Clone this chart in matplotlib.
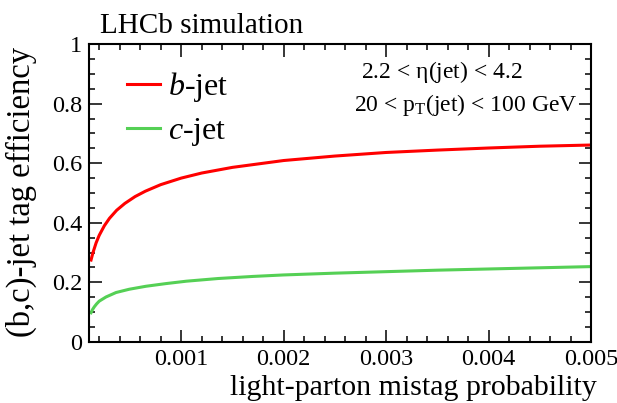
import matplotlib
matplotlib.use("Agg")
from matplotlib import pyplot as plt
from matplotlib.ticker import MultipleLocator

# values
x_b = [0.00012, 0.00014, 0.00017, 0.0002, 0.00025, 0.0003, 0.00037, 0.00045,
       0.00055, 0.00065, 0.0008, 0.001, 0.0012, 0.0015, 0.002, 0.0025,
       0.003, 0.0035, 0.004, 0.0045, 0.005]
b_eff = [0.275, 0.301, 0.333, 0.358, 0.390, 0.415, 0.442, 0.465,
         0.488, 0.506, 0.528, 0.550, 0.567, 0.586, 0.609, 0.624,
         0.636, 0.644, 0.651, 0.657, 0.661]

x_c = [0.00012, 0.000135, 0.000152, 0.000175, 0.000200, 0.000266, 0.000364, 0.000493,
       0.000656, 0.000852, 0.00105, 0.00136, 0.00170, 0.00200, 0.00250, 0.00300,
       0.00350, 0.00400, 0.00450, 0.00500]
c_eff = [0.098, 0.109, 0.118, 0.128, 0.137, 0.151, 0.166, 0.177,
         0.187, 0.196, 0.204, 0.213, 0.220, 0.225, 0.231, 0.236,
         0.241, 0.245, 0.249, 0.253]

x_ticks = [0.001, 0.002, 0.003, 0.004, 0.005]
x_ticklabels = ["0.001", "0.002", "0.003", "0.004", "0.005"]
y_ticks = [0, 0.2, 0.4, 0.6, 0.8, 1]
y_ticklabels = ["0", "0.2", "0.4", "0.6", "0.8", "1"]

plt.rcParams["font.family"] = ["Liberation Serif", "DejaVu Serif"]
plt.rcParams["mathtext.fontset"] = "custom"
plt.rcParams["mathtext.rm"] = "Liberation Serif"
plt.rcParams["mathtext.it"] = "Liberation Serif:italic"
plt.rcParams["mathtext.default"] = "rm"

fig = plt.figure(figsize=(6.17, 4.03), dpi=100)
ax = fig.add_axes([0.1442, 0.1514, 0.8138, 0.7394])

ax.plot(x_b, b_eff, color="#ff0000", lw=2.2, label=r"$\mathit{b}$-jet")
ax.plot(x_c, c_eff, color="#55d055", lw=2.2, label=r"$\mathit{c}$-jet")

ax.set_xlim(0.0001, 0.005)
ax.set_ylim(0, 1)
ax.set_xticks(x_ticks)
ax.set_xticklabels(x_ticklabels)
ax.set_yticks(y_ticks)
ax.set_yticklabels(y_ticklabels)
ax.xaxis.set_minor_locator(MultipleLocator(0.0002))
ax.yaxis.set_minor_locator(MultipleLocator(0.05))

ax.tick_params(which="both", direction="in", top=True, right=True, width=1.1,
               labelsize=17.5)
ax.tick_params(which="major", length=9)
ax.tick_params(which="minor", length=4.5)
ax.tick_params(axis="x", pad=5)
ax.tick_params(axis="y", pad=5)
for s in ax.spines.values():
    s.set_linewidth(1.5)

ax.set_xlabel("light-parton mistag probability", fontsize=21.5, loc="right")
ax.xaxis.set_label_coords(1.012, -0.112)
ax.set_ylabel("(b,c)-jet tag efficiency", fontsize=23.5, loc="top")
ax.yaxis.set_label_coords(-0.104, 0.99)

fig.text(0.162, 0.935, "LHCb simulation", fontsize=21, va="center", ha="left")

ax.text(0.703, 0.906, r"2.2 < $\eta$(jet) < 4.2", transform=ax.transAxes,
        fontsize=17, ha="center", va="center")
ax.text(0.974, 0.795, r"20 < p$_\mathrm{T}$(jet) < 100 GeV", transform=ax.transAxes,
        fontsize=17, ha="right", va="center")

ax.legend(loc="upper left", bbox_to_anchor=(0.05, 0.955), frameon=False,
          fontsize=23, handlelength=1.03, handletextpad=0.25, labelspacing=0.38,
          borderaxespad=0)

fig.savefig("out.png", dpi=100)
